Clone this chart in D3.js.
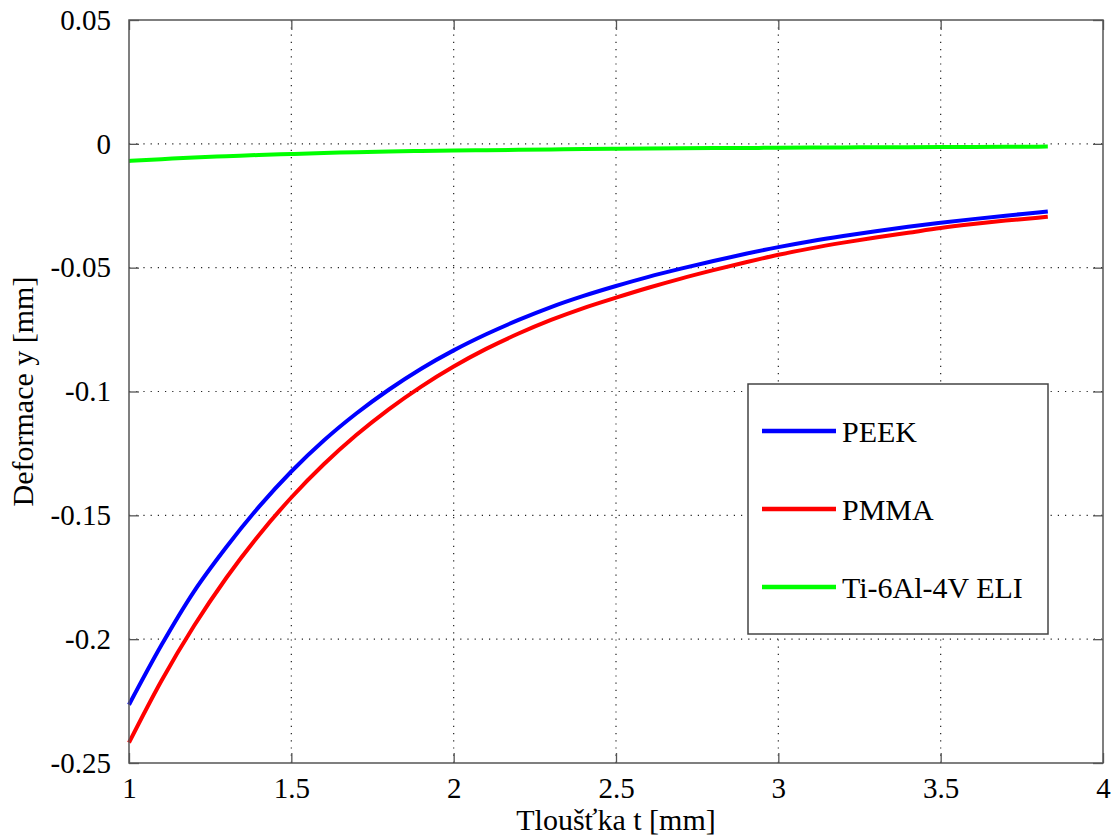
<!doctype html>
<html lang="cs">
<head>
<meta charset="utf-8">
<style>
  body { margin: 0; background: #fff; }
  svg text { font-family: "Liberation Serif", "Times New Roman", serif; fill: #000; }
</style>
</head>
<body>
<div id="chart"></div>
<script src="https://d3js.org/d3.v7.min.js"></script>
<script>
// tloušťka t [mm]
var thickness = [1.0, 1.1, 1.2, 1.3, 1.4, 1.5, 1.6, 1.7, 1.8, 1.9, 2.0,
                 2.1, 2.2, 2.3, 2.4, 2.5, 2.6, 2.7, 2.8, 2.9, 3.0,
                 3.1, 3.2, 3.3, 3.4, 3.5, 3.6, 3.7, 3.8, 3.83];
// deformace y [mm]
var peek = [-0.2265, -0.2024, -0.1808, -0.1628, -0.1466, -0.1323, -0.1198, -0.1089, -0.0993, -0.0908, -0.0834,
            -0.0769, -0.0711, -0.0659, -0.0614, -0.0574, -0.0537, -0.0504, -0.0473, -0.0444, -0.0417,
            -0.0393, -0.0372, -0.0353, -0.0335, -0.0319, -0.0304, -0.0290, -0.0277, -0.0273];
var pmma = [-0.2418, -0.2168, -0.1947, -0.1752, -0.1580, -0.1428, -0.1294, -0.1176, -0.1072, -0.0980, -0.0899,
            -0.0828, -0.0766, -0.0711, -0.0663, -0.0621, -0.0581, -0.0544, -0.0510, -0.0478, -0.0448,
            -0.0422, -0.0399, -0.0378, -0.0359, -0.0340, -0.0324, -0.0310, -0.0298, -0.0294];
var titan = [-0.0069, -0.0062, -0.0055, -0.0050, -0.0045, -0.0041, -0.0037, -0.0034, -0.0031, -0.0029, -0.0027,
             -0.00255, -0.0024, -0.00225, -0.0021, -0.0020, -0.0019, -0.0018, -0.0017, -0.00165, -0.0016,
             -0.0015, -0.00145, -0.0014, -0.00135, -0.0013, -0.00125, -0.0012, -0.00115, -0.0011];

var seriesNames = ["PEEK", "PMMA", "Ti-6Al-4V ELI"];
var seriesColors = ["#0000ff", "#ff0000", "#00ff00"];
var seriesValues = [peek, pmma, titan];

var xTicks = [1, 1.5, 2, 2.5, 3, 3.5, 4];
var yTicks = [0.05, 0, -0.05, -0.1, -0.15, -0.2, -0.25];
var xTickLabels = ["1", "1.5", "2", "2.5", "3", "3.5", "4"];
var yTickLabels = ["0.05", "0", "-0.05", "-0.1", "-0.15", "-0.2", "-0.25"];

var width = 1115, height = 836;
var margin = {left: 129, right: 12, top: 20, bottom: 73};
var innerW = width - margin.left - margin.right;
var innerH = height - margin.top - margin.bottom;

var svg = d3.select("#chart").append("svg")
            .attr("width", width)
            .attr("height", height);

var x = d3.scaleLinear().domain([1, 4]).range([margin.left, margin.left + innerW]);
var y = d3.scaleLinear().domain([-0.25, 0.05]).range([margin.top + innerH, margin.top]);

// dotted grid
var grid = svg.append("g").attr("class", "grid")
              .attr("stroke", "#222").attr("stroke-width", 1.2)
              .attr("stroke-dasharray", "1.2,6");
grid.selectAll(".gx").data(xTicks.slice(1, -1)).enter().append("line")
    .attr("x1", d => x(d)).attr("x2", d => x(d))
    .attr("y1", y.range()[0]).attr("y2", y.range()[1]);
grid.selectAll(".gy").data(yTicks.slice(1, -1)).enter().append("line")
    .attr("x1", x.range()[0]).attr("x2", x.range()[1])
    .attr("y1", d => y(d)).attr("y2", d => y(d));

// curves
var line = d3.line()
             .x((d, i) => x(thickness[i]))
             .y(d => y(d))
             .curve(d3.curveMonotoneX);

svg.selectAll(".series").data(seriesValues).enter().append("path")
   .attr("class", "series")
   .attr("fill", "none")
   .attr("stroke", (d, i) => seriesColors[i])
   .attr("stroke-width", 4)
   .attr("d", line);

// axes (box with inward ticks on all sides)
var tickLen = 10;
var axisColor = "#555";

function styleAxis(g) {
  g.select(".domain").remove();
  g.selectAll(".tick line").attr("stroke", axisColor).attr("stroke-width", 1.3);
  g.selectAll("text").attr("font-size", "29px")
   .attr("font-family", "Liberation Serif, Times New Roman, serif").attr("fill", "#000");
}

svg.append("g")
   .attr("transform", "translate(0," + y(-0.25) + ")")
   .call(d3.axisBottom(x).tickValues(xTicks).tickFormat((d, i) => xTickLabels[i])
           .tickSizeInner(-tickLen).tickSizeOuter(0).tickPadding(14))
   .call(styleAxis);

svg.append("g")
   .attr("transform", "translate(0," + y(0.05) + ")")
   .call(d3.axisTop(x).tickValues(xTicks).tickFormat("").tickSizeInner(-tickLen).tickSizeOuter(0))
   .call(styleAxis);

svg.append("g")
   .attr("transform", "translate(" + x(1) + ",0)")
   .call(d3.axisLeft(y).tickValues(yTicks).tickFormat((d, i) => yTickLabels[i])
           .tickSizeInner(-tickLen).tickSizeOuter(0).tickPadding(18))
   .call(styleAxis);

svg.append("g")
   .attr("transform", "translate(" + x(4) + ",0)")
   .call(d3.axisRight(y).tickValues(yTicks).tickFormat("").tickSizeInner(-tickLen).tickSizeOuter(0))
   .call(styleAxis);

svg.append("rect")
   .attr("x", x(1)).attr("y", y(0.05))
   .attr("width", x(4) - x(1)).attr("height", y(-0.25) - y(0.05))
   .attr("fill", "none").attr("stroke", axisColor).attr("stroke-width", 1.5);

// axis labels
svg.append("text")
   .attr("x", (x(1) + x(4)) / 2).attr("y", 830)
   .attr("text-anchor", "middle").attr("font-size", "30px")
   .text("Tloušťka t [mm]");

svg.append("text")
   .attr("transform", "translate(33," + (y(0.05) + y(-0.25)) / 2 + ") rotate(-90)")
   .attr("text-anchor", "middle").attr("font-size", "30px")
   .text("Deformace y [mm]");

// legend
var legend = svg.append("g").attr("transform", "translate(748,384)");
legend.append("rect")
      .attr("width", 300).attr("height", 250)
      .attr("fill", "#fff").attr("stroke", "#444").attr("stroke-width", 1.5);
var item = legend.selectAll(".item").data(seriesNames).enter().append("g")
                 .attr("transform", (d, i) => "translate(0," + (47 + i * 78) + ")");
item.append("line")
    .attr("x1", 14).attr("x2", 88)
    .attr("stroke", (d, i) => seriesColors[i]).attr("stroke-width", 4.5);
item.append("text")
    .attr("x", 94).attr("y", 11)
    .attr("font-size", "30px")
    .text(d => d);
</script>
</body>
</html>
